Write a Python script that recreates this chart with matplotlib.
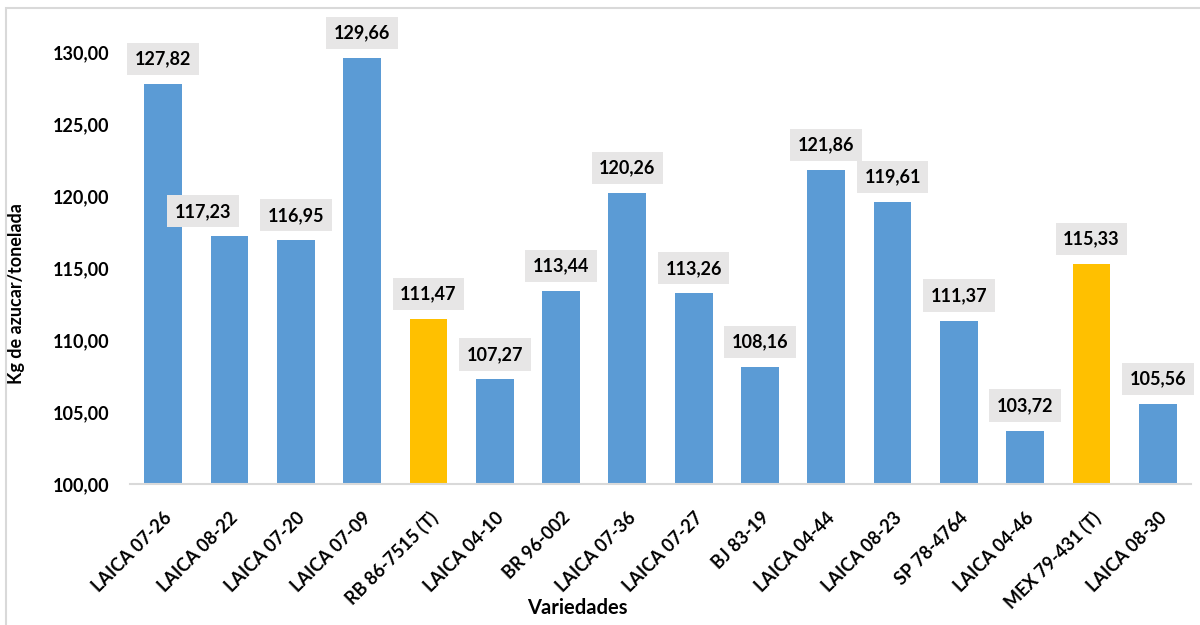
import matplotlib.pyplot as plt
from matplotlib.patches import Rectangle
from matplotlib.ticker import FuncFormatter

# Sugar yield per variety (kg of sugar per tonne of cane)
variedades = ['LAICA 07-26', 'LAICA 08-22', 'LAICA 07-20', 'LAICA 07-09',
              'RB 86-7515 (T)', 'LAICA 04-10', 'BR 96-002', 'LAICA 07-36',
              'LAICA 07-27', 'BJ 83-19', 'LAICA 04-44', 'LAICA 08-23',
              'SP 78-4764', 'LAICA 04-46', 'MEX 79-431 (T)', 'LAICA 08-30']
kg_azucar = [127.82, 117.23, 116.95, 129.66, 111.47, 107.27, 113.44, 120.26,
             113.26, 108.16, 121.86, 119.61, 111.37, 103.72, 115.33, 105.56]
testigos = ['RB 86-7515 (T)', 'MEX 79-431 (T)']

plt.rcParams['font.family'] = ['Lato', 'DejaVu Sans']

fig = plt.figure(figsize=(12, 6.25), dpi=100)
ax = fig.add_axes([130 / 1200, 141 / 625, 1061 / 1200, 460 / 625])

# thin grey frame around the chart area
fig.patches.append(Rectangle((6 / 1200, -0.05), 1.1, 1 - 8 / 625 + 0.05,
                             transform=fig.transFigure, fill=False,
                             edgecolor='#D9D9D9', linewidth=1.5))

colores = ['#FFC000' if v in testigos else '#5B9BD5' for v in variedades]
x = range(len(variedades))
bars = ax.bar(x, [v - 100 for v in kg_azucar], bottom=100, width=0.57,
              color=colores)

coma = lambda v: f'{v:.2f}'.replace('.', ',')

for i, (b, v) in enumerate(zip(bars, kg_azucar)):
    dx = -19 if i == 1 else 0
    ax.annotate(coma(v), (b.get_x() + b.get_width() / 2, v),
                xytext=(dx, 18), textcoords='offset points',
                ha='center', va='center', fontsize=13, fontweight='bold',
                bbox=dict(boxstyle='square,pad=0.42', facecolor='#E7E6E6',
                          edgecolor='none'),
                annotation_clip=False)

ax.set_xlim(-0.5, len(variedades) - 0.5)
ax.set_ylim(100, 132)
ax.set_yticks([100, 105, 110, 115, 120, 125, 130])
ax.yaxis.set_major_formatter(FuncFormatter(lambda v, p: coma(v)))
ax.set_xticks(list(x))
ax.set_xticklabels(variedades, rotation=45, ha='right', va='top',
                   rotation_mode='anchor')

ax.tick_params(axis='y', length=0, pad=15, labelsize=13)
ax.tick_params(axis='x', length=0, pad=18, labelsize=13)
for lbl in ax.get_xticklabels() + ax.get_yticklabels():
    lbl.set_fontweight('bold')

for s in ['top', 'right', 'left']:
    ax.spines[s].set_visible(False)
ax.spines['bottom'].set_color('#D9D9D9')
ax.spines['bottom'].set_linewidth(1.5)

ax.set_xlabel('Variedades', fontsize=14.5, fontweight='bold')
ax.xaxis.set_label_coords((577 - 130) / 1061, (484 - 598) / 460)
ax.set_ylabel('Kg de azucar/tonelada', fontsize=13, fontweight='bold')
ax.yaxis.set_label_coords((25 - 130) / 1061, (484 - 294) / 460)

fig.savefig('out.png', dpi=100)
